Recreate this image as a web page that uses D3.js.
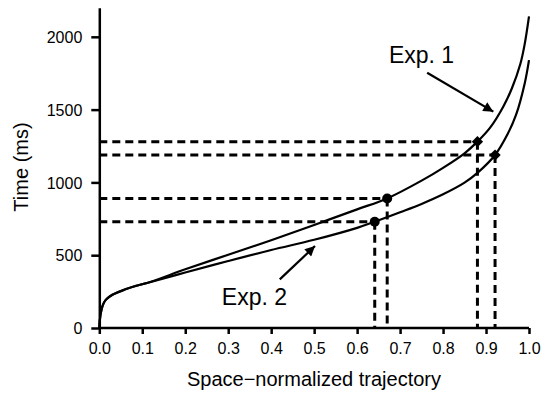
<!DOCTYPE html>
<html>
<head>
<meta charset="utf-8">
<script src="https://cdn.jsdelivr.net/npm/d3@7"></script>
<style>
  html, body { margin: 0; padding: 0; background: #fff; }
  svg { display: block; font-family: "Liberation Sans", Arial, Helvetica, sans-serif; }
</style>
</head>
<body>
<svg id="chart" width="542" height="395"></svg>
<script>
// Cumulative time along the space-normalized trajectory, two experiments
const trajectory1 = [0, 0.003, 0.008, 0.015, 0.03, 0.06, 0.085, 0.12, 0.2, 0.3, 0.4, 0.5, 0.6, 0.67, 0.75, 0.8, 0.85, 0.88, 0.91, 0.94, 0.96, 0.98, 0.99, 1.0];
const time1       = [0, 95, 155, 193, 228, 266, 290, 318, 403, 503, 603, 708, 815, 890, 1012, 1100, 1200, 1280, 1378, 1520, 1645, 1815, 1950, 2140];

const trajectory2 = [0, 0.003, 0.008, 0.015, 0.03, 0.06, 0.085, 0.12, 0.2, 0.3, 0.4, 0.5, 0.6, 0.641, 0.7, 0.75, 0.8, 0.85, 0.88, 0.921, 0.95, 0.97, 0.99, 1.0];
const time2       = [0, 95, 155, 193, 227, 264, 288, 316, 381, 460, 536, 606, 688, 730, 795, 852, 918, 998, 1065, 1188, 1330, 1465, 1680, 1840];

// Highlighted points: [trajectory, time]
const circles1  = [[0.67, 890]];
const diamonds1 = [[0.88, 1280]];
const circles2  = [[0.641, 730]];
const diamonds2 = [[0.921, 1188]];

const xTicks = [0, 0.1, 0.2, 0.3, 0.4, 0.5, 0.6, 0.7, 0.8, 0.9, 1.0];
const yTicks = [0, 500, 1000, 1500, 2000];

// Labels with arrows: text anchor and arrow from/to in data units
const labels = [
  { text: "Exp. 1", at: [0.750, 1820], from: [0.763, 1753], to: [0.917, 1486] },
  { text: "Exp. 2", at: [0.361, 158],  from: [0.420, 334],  to: [0.502, 563] }
];

const svg = d3.select("#chart");
const x = d3.scaleLinear().domain([0, 1]).range([99.3, 529]);
const y = d3.scaleLinear().domain([0, 2200]).range([328, 7.7]);

// Axes
const yAxis = svg.append("g").attr("transform", `translate(${x(0)},0)`)
  .call(d3.axisLeft(y).tickValues(yTicks).tickFormat(d3.format("d"))
    .tickSize(8).tickPadding(9).tickSizeOuter(0));
const xAxis = svg.append("g").attr("transform", `translate(0,${y(0)})`)
  .call(d3.axisBottom(x).tickValues(xTicks).tickFormat(d3.format(".1f"))
    .tickSize(6).tickPadding(9).tickSizeOuter(0));
[yAxis, xAxis].forEach(g => {
  g.select(".domain").attr("stroke", "#000").attr("stroke-width", 2.5);
  g.selectAll(".tick line").attr("stroke", "#000").attr("stroke-width", 2.5);
  g.selectAll(".tick text").attr("fill", "#000").style("font-size", "16px")
   .style("font-family", "'Liberation Sans', Arial, sans-serif");
});
yAxis.selectAll(".tick text").attr("dy", "0.36em");
xAxis.select(".domain").attr("d", `M${x(0)},0H${x(1)}`);

svg.append("text").attr("transform", `translate(28,167) rotate(-90)`)
  .attr("text-anchor", "middle").style("font-size", "20px").text("Time (ms)");
svg.append("text").attr("x", 314).attr("y", 386)
  .attr("text-anchor", "middle").style("font-size", "20px").text("Space\u2212normalized trajectory");

// Dashed guide lines from each marker to both axes
const allMarks = [...circles1, ...diamonds1, ...circles2, ...diamonds2];
const guides = svg.append("g").attr("stroke", "#000").attr("stroke-width", 3)
  .attr("stroke-dasharray", "8,5").attr("fill", "none");
allMarks.forEach(([tx, tt]) => {
  guides.append("line").attr("x1", x(0)).attr("x2", x(tx)).attr("y1", y(tt)).attr("y2", y(tt));
  guides.append("line").attr("x1", x(tx)).attr("x2", x(tx)).attr("y1", y(tt)).attr("y2", y(0));
});

// Curves
const line = d3.line().x(d => x(d[0])).y(d => y(d[1])).curve(d3.curveCatmullRom.alpha(0.5));
[[trajectory1, time1], [trajectory2, time2]].forEach(([tx, tt]) => {
  svg.append("path").datum(tx.map((v, i) => [v, tt[i]]))
    .attr("d", line).attr("fill", "none").attr("stroke", "#000").attr("stroke-width", 2.2);
});

// Markers
svg.append("g").selectAll("circle").data([...circles1, ...circles2]).join("circle")
  .attr("cx", d => x(d[0])).attr("cy", d => y(d[1])).attr("r", 5).attr("fill", "#000");
svg.append("g").selectAll("path").data([...diamonds1, ...diamonds2]).join("path")
  .attr("d", d3.symbol(d3.symbolSquare, 64))
  .attr("transform", d => `translate(${x(d[0])},${y(d[1])}) rotate(45)`)
  .attr("fill", "#000");

// Annotation arrows and labels
svg.append("defs").append("marker").attr("id", "head")
  .attr("viewBox", "0 0 10 10").attr("refX", 10).attr("refY", 5)
  .attr("markerWidth", 12).attr("markerHeight", 10).attr("markerUnits", "userSpaceOnUse")
  .attr("orient", "auto")
  .append("path").attr("d", "M0,0L10,5L0,10Z").attr("fill", "#000");
labels.forEach(l => {
  svg.append("line")
    .attr("x1", x(l.from[0])).attr("y1", y(l.from[1]))
    .attr("x2", x(l.to[0])).attr("y2", y(l.to[1]))
    .attr("stroke", "#000").attr("stroke-width", 2.2).attr("marker-end", "url(#head)");
  svg.append("text").attr("x", x(l.at[0])).attr("y", y(l.at[1]))
    .attr("text-anchor", "middle").style("font-size", "23px").text(l.text);
});
</script>
</body>
</html>
